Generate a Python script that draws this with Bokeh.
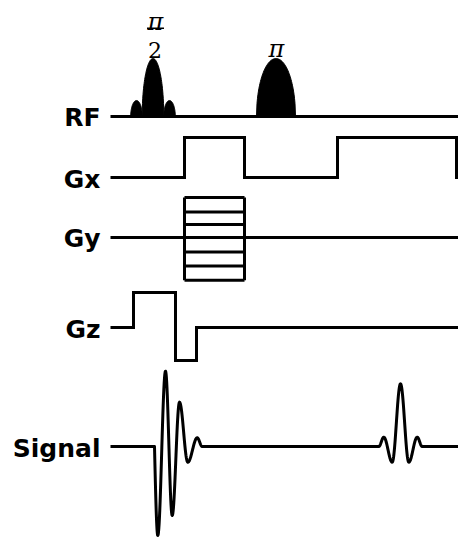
import numpy as np
from bokeh.plotting import figure
from bokeh.models import Range1d
from bokeh.core.properties import value
from bokeh.embed import file_html
from bokeh.resources import INLINE

# ---- diagram data (time axis / amplitude) ----
channel_names = ["RF", "Gx", "Gy", "Gz", "Signal"]
channel_base = [116, 177, 237, 327, 446]       # baseline level of each channel
t_start, t_end = 110, 458                       # time span of the baselines

# RF: sinc excitation (3 lobes) and refocusing pulse
rf_center = [136, 152.5, 169, 275.5]
rf_halfwidth = [5.8, 10.8, 5.8, 19.5]
rf_amp = [16, 58, 16, 58]
flip_center = [155, 276]

# Gx: readout gradient lobes
gx_on = [184, 337]
gx_off = [244, 456]
gx_amp = [40, 40]

# Gy: phase-encode table
gy_on, gy_off = 184, 244
gy_levels = [40, 25.6, 13, 0, -14.4, -28.4, -42.7]

# Gz: slice select + rephaser
gz_on = [133, 175]
gz_off = [175, 196]
gz_amp = [35, -33]

# Signal: FID and echo extrema
fid_t = [154, 157.3, 165, 171.7, 179, 187.3, 196.7, 201.7]
fid_a = [0, -89, 75.3, -69, 44.3, -15.7, 8.7, 0]
echo_t = [378.3, 383.3, 391.7, 400, 408.3, 416.7, 421.7]
echo_a = [0, 9.3, -15.7, 62.7, -15.7, 9.3, 0]

LW = 3
FONT = value("DejaVu Sans")


def smooth(ts, amps, base, sharp_start=False):
    xs, ys = [], []
    for i in range(len(ts) - 1):
        u = np.linspace(0, 1, 24)
        if i == 0 and sharp_start:
            f = np.sin(u * np.pi / 2)
        else:
            f = (1 - np.cos(u * np.pi)) / 2
        xs.extend(ts[i] + (ts[i + 1] - ts[i]) * u)
        ys.extend(base - (amps[i] + (amps[i + 1] - amps[i]) * f))
    return xs, ys


p = figure(width=458, height=538, x_range=Range1d(0, 458), y_range=Range1d(538, 0),
           output_backend="svg", toolbar_location=None, min_border=0,
           x_axis_type=None, y_axis_type=None)
p.grid.visible = False
p.outline_line_color = None
p.background_fill_color = "white"

# channel labels
p.text(x=[100] * 5, y=[b + o for b, o in zip(channel_base, [1, 2, 1, 2, 2])], text=channel_names,
       text_align="right", text_baseline="alphabetic", text_font=FONT,
       text_font_style="bold", text_font_size="25px", text_color="black")

# RF
b = channel_base[0]
p.line([t_start, t_end], [b, b], line_width=LW, color="black")
pxs, pys = [], []
for c, hw, a in zip(rf_center, rf_halfwidth, rf_amp):
    u = np.linspace(-1, 1, 80)
    pxs.append(list(c + hw * u))
    pys.append(list(b - a * np.sqrt(1 - u ** 2)))
p.patches(pxs, pys, fill_color="black", line_color="black", line_width=1)

# flip angle labels
serif = value("DejaVu Serif")
p.text(x=[flip_center[0]], y=[21], text=["π"], text_align="center", text_baseline="alphabetic",
       text_font=serif, text_font_style="italic", text_font_size="24px")
p.line([flip_center[0] - 8.5, flip_center[0] + 8.5], [27.7, 27.7], line_width=1.5, color="black")
p.text(x=[flip_center[0] - 0.5], y=[49.3], text=["2"], text_align="center", text_baseline="alphabetic",
       text_font=serif, text_font_size="22px")
p.text(x=[flip_center[1]], y=[48], text=["π"], text_align="center", text_baseline="alphabetic",
       text_font=serif, text_font_style="italic", text_font_size="24px")

# Gx
b = channel_base[1]
xs, ys = [t_start], [b]
for on, off, a in zip(gx_on, gx_off, gx_amp):
    xs += [on, on, off, off]
    ys += [b, b - a, b - a, b]
xs.append(t_end); ys.append(b)
p.line(xs, ys, line_width=LW, color="black", line_join="miter")

# Gy
b = channel_base[2]
p.line([t_start, t_end], [b, b], line_width=LW, color="black")
p.multi_line([[gy_on, gy_off] for _ in gy_levels], [[b - a, b - a] for a in gy_levels],
             line_width=LW, color="black")
p.multi_line([[gy_on, gy_on], [gy_off, gy_off]],
             [[b - max(gy_levels), b - min(gy_levels)]] * 2, line_width=LW, color="black")

# Gz
b = channel_base[3]
xs, ys = [t_start], [b]
for on, off, a in zip(gz_on, gz_off, gz_amp):
    xs += [on, on, off, off]
    ys += [b, b - a, b - a, b]
xs.append(t_end); ys.append(b)
p.line(xs, ys, line_width=LW, color="black", line_join="miter")

# Signal
b = channel_base[4]
fx, fy = smooth(fid_t, fid_a, b, sharp_start=True)
ex, ey = smooth(echo_t, echo_a, b)
sx = [t_start] + fx + ex + [t_end]
sy = [b] + fy + ey + [b]
p.line(sx, sy, line_width=LW, color="black", line_join="round")

open("out.html", "w").write(file_html(p, INLINE))
